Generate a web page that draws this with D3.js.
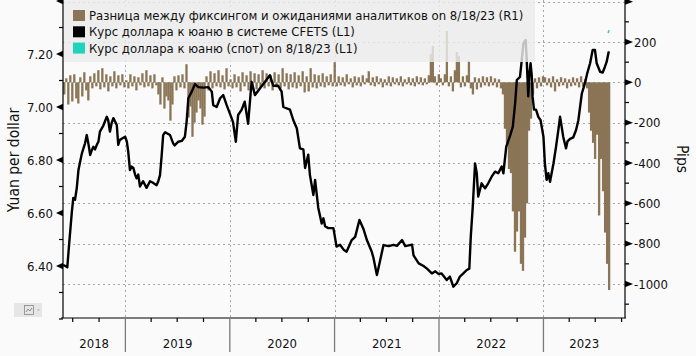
<!DOCTYPE html>
<html><head><meta charset="utf-8">
<script src="https://cdn.jsdelivr.net/npm/d3@7"></script>
<style>
html,body{margin:0;padding:0;background:#fafafa;}
svg{display:block;font-family:"DejaVu Sans Condensed","DejaVu Sans",sans-serif;}
</style></head>
<body>
<svg id="c" width="696" height="356"></svg>
<script>
// ---------- DATA ----------
const legendLabels = [
  "Разница между фиксингом и ожиданиями аналитиков on 8/18/23 (R1)",
  "Курс доллара к юаню в системе CFETS (L1)",
  "Курс доллара к юаню (спот) on 8/18/23 (L1)"
];
const leftTicks = [6.40, 6.60, 6.80, 7.00, 7.20, 7.40];
const leftTickLabels = ["6.40", "6.60", "6.80", "7.00", "7.20", ""];
const rightTicks = [-1000, -800, -600, -400, -200, 0, 200, 400];
const rightTickLabels = ["-1000", "-800", "-600", "-400", "-200", "0", "200", ""];
const years = ["2018", "2019", "2020", "2021", "2022", "2023"];

// CFETS fixing (USD/CNY)
const fixDates = ["2018-05-28","2018-06-05","2018-06-12","2018-06-19","2018-06-28","2018-07-03","2018-07-09","2018-07-15","2018-07-21","2018-07-27","2018-08-02","2018-08-13","2018-08-19","2018-08-25","2018-08-31","2018-09-05","2018-09-11","2018-09-17","2018-09-23","2018-09-29","2018-10-04","2018-10-16","2018-10-28","2018-11-02","2018-11-08","2018-11-14","2018-11-20","2018-12-02","2018-12-07","2018-12-12","2018-12-19","2018-12-31",
"2019-01-06","2019-01-11","2019-01-17","2019-01-23","2019-01-29","2019-02-04","2019-02-09","2019-02-15","2019-02-21","2019-03-04","2019-03-16","2019-03-28","2019-04-06","2019-04-20","2019-04-26","2019-05-02","2019-05-08","2019-05-13","2019-05-20","2019-06-06","2019-06-17","2019-06-22","2019-07-05","2019-07-17","2019-07-28","2019-08-03","2019-08-09","2019-08-21","2019-09-01","2019-09-13","2019-09-30","2019-10-18","2019-10-30","2019-11-04","2019-11-16","2019-11-28","2019-12-09","2019-12-21",
"2020-01-01","2020-01-12","2020-01-22","2020-01-30","2020-02-11","2020-02-22","2020-03-05","2020-03-17","2020-03-29","2020-04-15","2020-05-03","2020-05-20","2020-06-01","2020-06-18","2020-06-30","2020-07-06","2020-07-29","2020-08-10","2020-08-22","2020-09-02","2020-09-14","2020-09-20","2020-10-01","2020-10-07","2020-10-19","2020-10-25","2020-11-05","2020-11-17","2020-11-23","2020-11-29","2020-12-10","2020-12-28",
"2021-01-08","2021-01-20","2021-02-03","2021-02-12","2021-03-02","2021-03-14","2021-03-29","2021-04-12","2021-04-24","2021-05-11","2021-05-17","2021-05-29","2021-06-05","2021-06-21","2021-07-09","2021-07-26","2021-08-07","2021-08-25","2021-09-05","2021-09-17","2021-09-29","2021-10-04","2021-10-22","2021-11-08","2021-11-20","2021-12-07","2021-12-19","2021-12-30",
"2022-01-10","2022-01-28","2022-02-08","2022-02-20","2022-03-04","2022-03-15","2022-03-27","2022-04-08","2022-04-17","2022-04-22","2022-04-29","2022-05-07","2022-05-13","2022-05-18","2022-05-30","2022-06-11","2022-06-22","2022-07-04","2022-07-16","2022-07-27","2022-08-08","2022-08-14","2022-08-24","2022-09-07","2022-09-16","2022-09-24","2022-09-30","2022-10-11","2022-10-16","2022-10-23","2022-10-31","2022-11-03","2022-11-09","2022-11-13","2022-11-17","2022-11-21","2022-11-24","2022-11-29","2022-12-06","2022-12-14","2022-12-22",
"2023-01-01","2023-01-06","2023-01-12","2023-01-18","2023-01-24","2023-02-05","2023-02-14","2023-02-22","2023-02-28","2023-03-05","2023-03-11","2023-03-21","2023-03-26","2023-04-04","2023-04-15","2023-04-25","2023-05-03","2023-05-09","2023-05-15","2023-05-26","2023-06-03","2023-06-13","2023-06-22","2023-06-30","2023-07-06","2023-07-18","2023-07-27","2023-08-04","2023-08-10","2023-08-16","2023-08-18"];
const fixValues = [6.404,6.400,6.395,6.49,6.605,6.657,6.65,6.693,6.762,6.794,6.825,6.863,6.894,6.86,6.819,6.835,6.85,6.84,6.857,6.87,6.907,6.93,6.963,6.95,6.907,6.94,6.958,6.932,6.857,6.875,6.88,6.888,
6.87,6.831,6.762,6.775,6.77,6.745,6.731,6.745,6.70,6.72,6.695,6.72,6.715,6.705,6.72,6.743,6.819,6.894,6.905,6.894,6.863,6.855,6.869,6.872,6.888,6.944,7.033,7.058,7.086,7.075,7.073,7.075,7.058,7.007,7.0,7.033,7.045,7.007,
6.976,6.944,6.869,6.97,6.989,7.02,6.937,7.095,7.045,7.07,7.095,7.12,7.08,7.08,7.058,7.0,6.99,6.95,6.92,6.844,6.84,6.77,6.82,6.743,6.668,6.725,6.62,6.56,6.58,6.55,6.543,6.543,
6.473,6.48,6.46,6.454,6.498,6.51,6.574,6.54,6.498,6.454,6.43,6.366,6.40,6.479,6.475,6.48,6.476,6.498,6.475,6.478,6.48,6.44,6.41,6.40,6.39,6.372,6.38,6.37,
6.372,6.347,6.36,6.322,6.335,6.36,6.372,6.385,6.39,6.51,6.624,6.787,6.75,6.662,6.712,6.693,6.712,6.737,6.756,6.75,6.775,6.75,6.85,6.894,6.926,7.014,7.102,7.114,7.165,7.24,7.253,7.19,7.04,7.127,7.165,7.12,7.04,6.99,6.99,6.963,6.95,
6.888,6.787,6.725,6.75,6.718,6.787,6.85,6.913,6.963,6.93,6.888,6.844,6.87,6.88,6.885,6.913,6.95,7.0,7.05,7.09,7.127,7.165,7.215,7.215,7.165,7.133,7.13,7.152,7.171,7.203,7.21];

// Spot USD/CNY
const spotDates = ["2023-08-15", "2023-08-18"];
const spotValues = [7.279, 7.29];

// Fixing minus analysts' estimates, pips (weekly, Fridays)
const pipsStart = ["2018-06-01","2019-01-04","2020-01-03","2021-01-01","2022-01-07","2023-01-06"];
const pips2018 = [-60,20,-110,35,-95,40,-80,-105,25,-70,50,-40,-90,30,-30,45,-20,60,-35,70,-25,40,-45,30,-20,55,-30,35,-15,40,-25];
const pips2019 = [10,-30,40,-20,30,-40,25,-15,45,-25,60,-20,35,-30,40,-15,-60,-110,25,-130,-70,-90,-190,-110,30,-40,35,-25,40,-30,90,-175,-120,-270,-200,-150,-90,-130,-210,-170,30,-40,55,-30,45,-20,60,-25,35,-35,70,-20];
const pips2020 = [15,-30,40,-25,30,-45,50,-20,35,-40,55,-30,45,-35,40,-25,60,-30,45,-20,35,-40,50,-25,40,-30,70,-20,45,-35,40,-25,50,-30,35,-20,55,-50,30,-45,70,-25,40,-30,35,-20,45,-25,30,-15,40,-20];
const pips2021 = [100,-20,30,-15,25,-20,40,-10,20,-25,30,-15,25,-20,35,-10,20,55,-15,25,-20,30,-10,20,-25,15,-15,30,-20,25,-10,20,-15,30,-20,15,-10,25,-15,20,-20,30,-10,25,-15,20,-10,35,140,180,30,-15,40];
const pips2022 = [20,-15,40,255,-20,30,-45,60,150,130,-25,30,-20,35,108,-30,-60,25,-35,20,-25,30,-15,25,-20,30,-15,20,-25,15,-30,-60,-230,-300,-430,-450,-640,-840,-740,-640,-900,-935,-770,-600,-240,-180,-60,20,-30,25,-20,30];
const pips2023 = [25,-15,20,-25,30,-45,15,-20,25,-15,20,-30,15,-20,25,-15,20,-25,30,-20,15,-30,-150,-240,-300,-380,-260,-660,-380,-540,-745,-900,-1030];
const pipsByYear = [pips2018, pips2019, pips2020, pips2021, pips2022, pips2023];

// ---------- CHART ----------
const L = 63, R = 625, T = 0, B = 318;
const parse = d3.timeParse("%Y-%m-%d");
const svg = d3.select("#c");

const x = d3.scaleTime().domain([parse("2018-05-28"), parse("2023-10-13")]).range([L, R]);
const yL = d3.scaleLinear().domain([6.40, 7.20]).range([266, 54]);
const yR = d3.scaleLinear().domain([-1000, 200]).range([284, 42]);

const brown = "#8a7556", cyan = "#1fd3bd";

svg.append("defs").append("clipPath").attr("id", "pc")
  .append("rect").attr("x", L).attr("y", T).attr("width", R - L).attr("height", B - T);

// grid
const grid = svg.append("g").attr("stroke", "#a8a8a8").attr("stroke-dasharray", "2,3").attr("stroke-width", 1);
rightTicks.forEach(t => {
  const yy = Math.round(yR(t)) + 0.5;
  grid.append("line").attr("x1", L).attr("x2", R).attr("y1", yy).attr("y2", yy);
});
years.slice(1).forEach(yr => {
  const xx = Math.round(x(parse(yr + "-01-01"))) + 0.5;
  grid.append("line").attr("x1", xx).attr("x2", xx).attr("y1", T).attr("y2", B);
});

const plot = svg.append("g").attr("clip-path", "url(#pc)");

// bars
const bars = [];
pipsByYear.forEach((arr, k) => {
  const s = parse(pipsStart[k]);
  arr.forEach((v, i) => bars.push({ d: d3.timeDay.offset(s, 7 * i), v }));
});
const bw = x(parse("2020-01-08")) - x(parse("2020-01-01"));
plot.append("g").attr("fill", brown).selectAll("rect").data(bars).join("rect")
  .attr("x", d => x(d.d) - bw / 2)
  .attr("width", bw + 0.3)
  .attr("y", d => Math.min(yR(0), yR(d.v)))
  .attr("height", d => Math.max(0.8, Math.abs(yR(d.v) - yR(0))));

// CFETS line
const fixData = fixDates.map((d, i) => ({ d: parse(d), v: fixValues[i] }));
plot.append("path").datum(fixData)
  .attr("fill", "none").attr("stroke", "#000").attr("stroke-width", 2.4).attr("stroke-linejoin", "round")
  .attr("d", d3.line().x(d => x(d.d)).y(d => yL(d.v)));

// spot
const spotData = spotDates.map((d, i) => ({ d: parse(d), v: spotValues[i] }));
plot.append("path").datum(spotData)
  .attr("fill", "none").attr("stroke", cyan).attr("stroke-width", 1.5)
  .attr("d", d3.line().x(d => x(d.d)).y(d => yL(d.v)));

// axes lines
const ax = svg.append("g").attr("stroke", "#000").attr("stroke-width", 1.2);
ax.append("line").attr("x1", L).attr("x2", L).attr("y1", T).attr("y2", B);
ax.append("line").attr("x1", R).attr("x2", R).attr("y1", T).attr("y2", B);
ax.append("line").attr("x1", L - 2).attr("x2", R + 1).attr("y1", B).attr("y2", B);

// left ticks
d3.range(6.2, 7.41, 0.1).forEach(t => {
  const isMajor = leftTicks.some(m => Math.abs(m - t) < 1e-6);
  if (!isMajor) ax.append("line").attr("x1", L - 4).attr("x2", L).attr("y1", yL(t)).attr("y2", yL(t));
});
leftTicks.forEach((t, i) => {
  const yy = yL(t);
  svg.append("path").attr("d", `M${L},${yy - 3.2}L${L - 7},${yy}L${L},${yy + 3.2}Z`).attr("fill", "#000");
  svg.append("text").attr("x", L - 10).attr("y", yy).attr("dy", "0.36em")
    .attr("text-anchor", "end").attr("font-size", 13).attr("fill", "#111").text(leftTickLabels[i]);
});
// right ticks
d3.range(-1100, 401, 100).forEach(t => {
  if (t % 200 !== 0) ax.append("line").attr("x1", R).attr("x2", R + 4).attr("y1", yR(t)).attr("y2", yR(t));
});
rightTicks.forEach((t, i) => {
  const yy = yR(t);
  svg.append("path").attr("d", `M${R},${yy - 3.2}L${R + 8},${yy}L${R},${yy + 3.2}Z`).attr("fill", "#000");
  svg.append("text").attr("x", R + 9).attr("y", yy).attr("dy", "0.36em")
    .attr("text-anchor", "start").attr("font-size", 13).attr("fill", "#111").text(rightTickLabels[i]);
});

// x axis: quarter ticks + year separators
const q = d3.timeMonth.every(3).range(parse("2018-06-01"), parse("2023-10-14"));
q.forEach(d => {
  const xx = x(d);
  if (xx < L || xx > R) return;
  if (d.getMonth() === 0) {
    svg.append("line").attr("x1", xx).attr("x2", xx).attr("y1", B).attr("y2", 352)
      .attr("stroke", "#7a7a7a").attr("stroke-width", 1.3);
  } else {
    ax.append("line").attr("x1", xx).attr("x2", xx).attr("y1", B).attr("y2", B + 4);
  }
});
years.forEach(yr => {
  const a = Math.max(L, x(parse(yr + "-01-01")));
  const b = Math.min(R, x(parse((+yr + 1) + "-01-01")));
  svg.append("text").attr("x", (a + b) / 2).attr("y", 348).attr("text-anchor", "middle")
    .attr("font-size", 13).attr("fill", "#111").text(yr);
});

// axis titles
svg.append("text").attr("transform", "translate(19,160) rotate(-90)").attr("text-anchor", "middle")
  .attr("font-size", 15.5).attr("fill", "#111").text("Yuan per dollar");
svg.append("text").attr("transform", "translate(677,159) rotate(90)").attr("text-anchor", "middle")
  .attr("font-size", 15.5).attr("fill", "#111").text("Pips");

// legend
const lg = svg.append("g");
lg.append("rect").attr("x", L + 1).attr("y", 0).attr("width", 535 - L - 1).attr("height", 62)
  .attr("fill", "#ebebeb").attr("fill-opacity", 0.82);
const swatch = [brown, "#000", cyan];
legendLabels.forEach((t, i) => {
  const yy = 10 + i * 16.3;
  lg.append("rect").attr("x", 73).attr("y", yy).attr("width", 12).attr("height", 11).attr("fill", swatch[i]);
  lg.append("text").attr("x", 89).attr("y", yy + 10).attr("font-size", 13).attr("fill", "#111").text(t);
});

// small toolbar icon bottom-left
const ic = svg.append("g");
ic.append("rect").attr("x", 14).attr("y", 303).attr("width", 28).attr("height", 14).attr("fill", "#e6e6e6");
ic.append("rect").attr("x", 24.5).attr("y", 305.5).attr("width", 9).attr("height", 9).attr("fill", "none").attr("stroke", "#888").attr("stroke-width", 0.8);
ic.append("path").attr("d", "M26,312L28,309L30,311L32,308").attr("fill", "none").attr("stroke", "#777").attr("stroke-width", 0.8);
ic.append("path").attr("d", "M37,309.5L40,309.5L38.5,311Z").attr("fill", "#aaa");
</script>
</body></html>
